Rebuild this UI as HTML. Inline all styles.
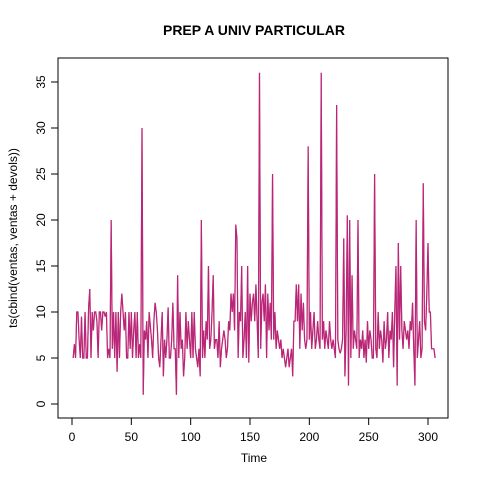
<!DOCTYPE html>
<html><head><meta charset="utf-8"><style>
html,body{margin:0;padding:0;background:#fff}
svg{display:block;font-family:"Liberation Sans",Arial,sans-serif}
</style></head><body>
<svg id="chart" width="480" height="480">
<text x="254" y="35" text-anchor="middle" font-size="14" font-weight="bold">PREP A UNIV PARTICULAR</text>
<rect x="58" y="58" width="390" height="360" fill="none" stroke="#000" stroke-width="1"/>
<text x="254" y="462" text-anchor="middle" font-size="12">Time</text>
<text transform="translate(17,238) rotate(-90)" text-anchor="middle" font-size="12">ts(cbind(ventas, ventas + devols))</text>
<g id="axes"></g>
<g id="lines"></g>
</svg>
<script>
const xTicks = [0, 50, 100, 150, 200, 250, 300];
const yTicks = [0, 5, 10, 15, 20, 25, 30, 35];
const ventas = [
5,6.5,5,10,10,7,5,9.5,5,5,
10,5,5,10.5,12.5,5,10,8,10,10,
9,5,10,10,8,10,10,9.5,10,5,
6,5,20,6,10,5,10,3.5,10,5,
10,12,10,8,10,5,5,10,6,10,
5,8,10,5,10,5,6.5,5,30,1,
8,7,9,5,10,8.5,7,5,9,11,
10,8,5,4,7,10,3,7,5,7,
10.5,5,5,7,11,6,6,1,14,5,
10,6,7,3,5,10,6,9,7,5,
10,5,10,6,5,4,6,3,20,5,
8,5,9,7,15,6,7,10,14,6,
7,7,5,9,4,6,7,8,7,5,
6,9,8,12,10,12,8,19.5,18,5,
10,9,15,5,7,10,5,15,4.5,12,
9,11,12,9,13,9,5,36,6,11,
12,9,13,5,12,8,11,7,25,7,
10,6,8,7,6,7,5,6,5,4,
5,6,4,5,6,3,9,9,13,9,
13,6,12,8,11,7,6,7,28,7,
10,6,8,10,6,7,9,7,6,36,
7,9,6,8,7,6,9,7,6,7,
6,5,32.5,7,6,5.5,6,7,18,3,
8,20.5,2,20,5,14,6,8,7,6,
20,5,7,6,8,5,7,4.5,9,6,
8,7,5,5,25,6,5,10,6,8,
7,4.5,9,6,7,10,5,8,7,10,
4,10,15,2,17.5,7,15,8,6,9,
8,7,8,6,9,8,11,6,2,20,
5,7,9,5,6,24,9,8,12,17.5,
10,10,6,6,6,5];
const devols = [
0,0,0,0,0,0,0,0,0,0, 0,0,0,0,0,0,0,0,0,0,
0,0,0,0,0,0,0,0,0,0, 0,0,0,0,0,0,0,0,0,0,
0,0,0,0,0,0,0,0,0,0, 0,0,0,0,0,0,0,0,0,0,
0,0,0,0,0,0,0,0,0,0, 0,0,0,0,0,0,0,0,0,0,
0,0,0,0,0,0,0,0,0,0, 0,0,0,0,0,0,0,0,0,0,
0,0,0,0,0,0,0,0,0,0, 0,0,0,0,0,0,0,0,0,0,
0,0,0,0,0,0,0,0,0,0, 0,0,0,0,0,0,0,0,0,0,
0,0,0,0,0,0,0,0,0,0, 0,0,0,0,0,0,0,0,0,0,
0,0,0,0,0,0,0,0,0,0, 0,0,0,0,0,0,0,0,0,0,
0,0,0,0,0,0,0,0,0,0, 0,0,0,0,0,0,0,0,0,0,
0,0,0,0,0,0,0,0,0,0, 0,0,0,0,0,0,0,0,0,0,
0,0,0,0,0,0,0,0,0,0, 0,0,0,0,0,0,0,0,0,0,
0,0,0,0,0,0,0,0,0,0, 0,0,0,0,0,0,0,0,0,0,
0,0,0,0,0,0,0,0,0,0, 0,0,0,0,0,0,0,0,0,0,
0,0,0,0,0,0,0,0,0,0, 0,0,0,0,0,0,0,0,0,0,
0,0,0,0,0,0];
const NS = "http://www.w3.org/2000/svg";
const X = t => 72 + t * (356 / 300);
const Y = v => 404 - v * (322 / 35);
const axes = document.getElementById('axes');
function mk(tag, attrs, parent) {
  const e = document.createElementNS(NS, tag);
  for (const k in attrs) e.setAttribute(k, attrs[k]);
  parent.appendChild(e);
  return e;
}
const xl = mk('line', {x1: X(xTicks[0]), x2: X(xTicks[xTicks.length-1]), y1: 418, y2: 418, stroke: '#000'}, axes);


xTicks.forEach(t => {
  const tk = mk('line', {x1: X(t), x2: X(t), y1: 418, y2: 425, stroke: '#000'}, axes);
  
  
  const tx = mk('text', {x: X(t), y: 441, 'text-anchor': 'middle', 'font-size': 12}, axes);
  tx.textContent = t;
  
  
});
const yl = mk('line', {x1: 58, x2: 58, y1: Y(yTicks[0]), y2: Y(yTicks[yTicks.length-1]), stroke: '#000'}, axes);


yTicks.forEach(v => {
  const tk = mk('line', {x1: 51, x2: 58, y1: Y(v), y2: Y(v), stroke: '#000'}, axes);
  
  
  const tx = mk('text', {transform: `translate(45,${Y(v)}) rotate(-90)`, 'text-anchor': 'middle', 'font-size': 12}, axes);
  tx.textContent = v;
  
  
});
const lines = document.getElementById('lines');
const p1 = ventas.map((v, i) => `${X(i + 1).toFixed(2)},${Y(v).toFixed(2)}`).join(' ');
const p2 = ventas.map((v, i) => `${X(i + 1).toFixed(2)},${Y(v + devols[i]).toFixed(2)}`).join(' ');
const l1 = mk('polyline', {points: p1, fill: 'none', stroke: '#e0003c', 'stroke-width': 1.2}, lines);


const l2 = mk('polyline', {points: p2, fill: 'none', stroke: 'rgba(150,70,170,0.55)', 'stroke-width': 1.2}, lines);


</script>
</body></html>
